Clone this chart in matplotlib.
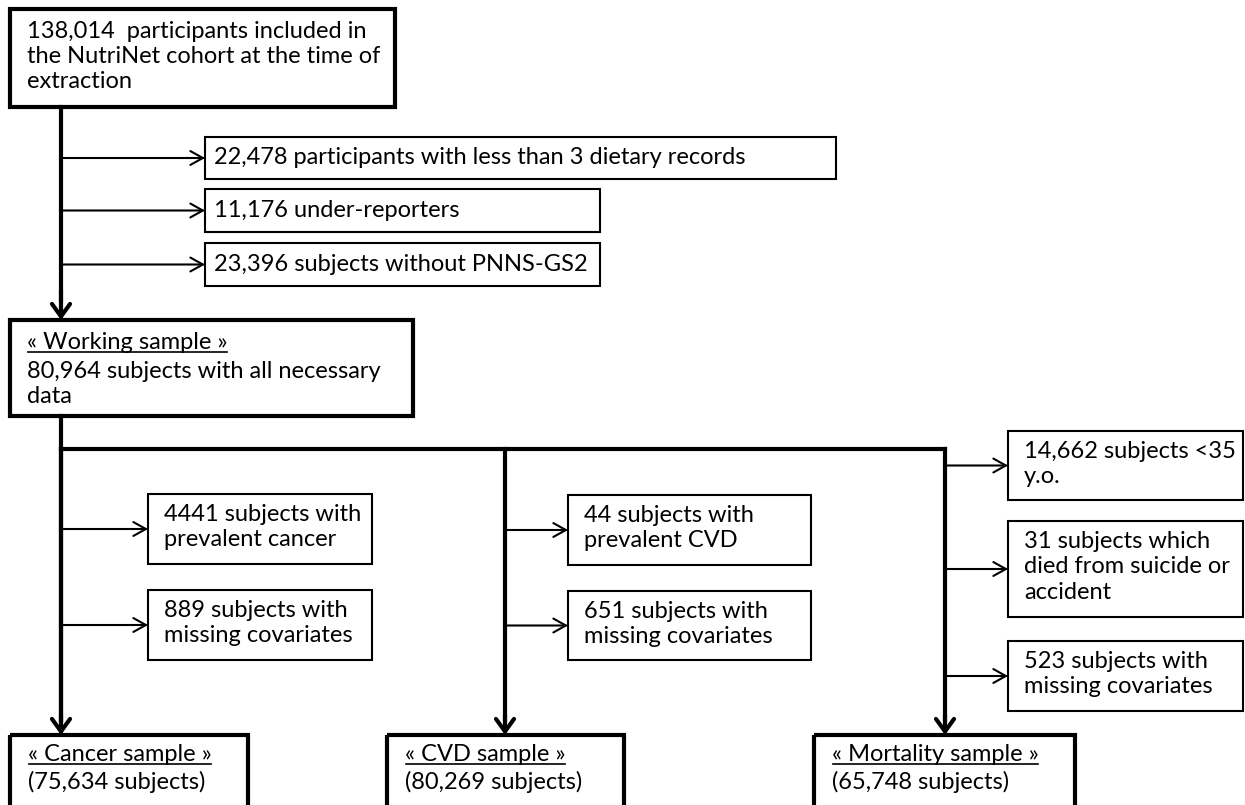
import matplotlib.pyplot as plt
from matplotlib.patches import Rectangle, FancyArrowPatch

# =========================================================
# DATA (texts of the flowchart)
# =========================================================

texto_inicio = "138,014  participants included in\nthe NutriNet cohort at the time of\nextraction"

exclusiones_iniciales = [
    "22,478 participants with less than 3 dietary records",
    "11,176 under-reporters",
    "23,396 subjects without PNNS-GS2",
]

titulo_trabajo = "« Working sample »"
texto_trabajo = "80,964 subjects with all necessary\ndata"

exclusiones_cancer = [
    "4441 subjects with\nprevalent cancer",
    "889 subjects with\nmissing covariates",
]
exclusiones_cvd = [
    "44 subjects with\nprevalent CVD",
    "651 subjects with\nmissing covariates",
]
exclusiones_mortalidad = [
    "14,662 subjects <35\ny.o.",
    "31 subjects which\ndied from suicide or\naccident",
    "523 subjects with\nmissing covariates",
]

titulos_finales = ["« Cancer sample »", "« CVD sample »", "« Mortality sample »"]
textos_finales = ["(75,634 subjects)", "(80,269 subjects)", "(65,748 subjects)"]

# =========================================================
# LAYOUT (pixel coordinates, y downwards)
# =========================================================

FUENTE = "Lato"
TAM = 17
INTERLINEA = 1.25
GRUESO = 3.0
FINO = 1.5

fig = plt.figure(figsize=(12.45, 8.05), dpi=100)
ax = fig.add_axes([0, 0, 1, 1])
ax.set_xlim(0, 1245)
ax.set_ylim(805, 0)
ax.axis("off")


def caja(x0, y0, x1, y1, lw):
    ax.add_patch(Rectangle((x0, y0), x1 - x0, y1 - y0, fill=False,
                           edgecolor="black", linewidth=lw, joinstyle="miter"))


def flecha(xa, ya, xb, yb, lw, hl, hw):
    ax.add_patch(FancyArrowPatch((xa, ya), (xb, yb),
                                 arrowstyle=f"->,head_length={hl},head_width={hw}",
                                 mutation_scale=1, linewidth=lw, color="black",
                                 shrinkA=0, shrinkB=0, joinstyle="miter"))


def linea(xs, ys, lw):
    ax.plot(xs, ys, color="black", linewidth=lw, solid_capstyle="projecting")


def texto(x, y, s, **kw):
    return ax.text(x, y, s, fontsize=TAM, family=FUENTE, va="top", ha="left",
                   linespacing=INTERLINEA, **kw)


subrayados = []

# Top box
caja(10, 9, 395, 107, GRUESO)
texto(27, 21, texto_inicio)

# main vertical to working sample
linea([61, 61], [107, 300], GRUESO)
flecha(61, 290, 61, 320, GRUESO, 9, 6.5)

# initial exclusions
cajas_ini = [(205, 137, 836, 179), (205, 189, 600, 232), (205, 243, 600, 286)]
for (x0, y0, x1, y1), s in zip(cajas_ini, exclusiones_iniciales):
    caja(x0, y0, x1, y1, FINO)
    flecha(61, (y0 + y1) / 2, x0, (y0 + y1) / 2, FINO, 9, 5)
    ax.text(x0 + 9, (y0 + y1) / 2, s, fontsize=TAM, family=FUENTE, va="center", ha="left")

# Working sample box
caja(10, 320, 413, 416, GRUESO)
subrayados.append(texto(27, 332, titulo_trabajo))
texto(27, 361, texto_trabajo)

# split lines
linea([61, 61], [416, 720], GRUESO)
linea([61, 945], [449, 449], GRUESO)
ramas_x = [61, 505, 945]
for xr in ramas_x:
    linea([xr, xr], [449, 720], GRUESO)
    flecha(xr, 715, xr, 735, GRUESO, 9, 6.5)

# exclusion boxes per branch
grupos = [
    (exclusiones_cancer, 63, 148, 372, [(494, 564), (590, 660)]),
    (exclusiones_cvd, 507, 568, 811, [(495, 565), (591, 660)]),
    (exclusiones_mortalidad, 947, 1008, 1243, [(431, 500), (521, 617), (641, 711)]),
]
for textos, xa, x0, x1, filas in grupos:
    for (y0, y1), s in zip(filas, textos):
        caja(x0, y0, x1, y1, FINO)
        ym = (y0 + y1) / 2
        flecha(xa, ym, x0, ym, FINO, 9, 5)
        texto(x0 + 16, y0 + 10, s)

# final boxes
finales_x = [(10, 248), (387, 624), (814, 1075)]
for (x0, x1), t, s in zip(finales_x, titulos_finales, textos_finales):
    caja(x0, 735, x1, 830, GRUESO)
    subrayados.append(texto(x0 + 18, 744, t))
    texto(x0 + 18, 771, s)

# underline titles
fig.canvas.draw()
inv = ax.transData.inverted()
for t in subrayados:
    bb = t.get_window_extent()
    (xa, ya), (xb, yb) = inv.transform([(bb.x0, bb.y0), (bb.x1, bb.y1)])
    linea([xa + 1, xb - 1], [ya - 1, ya - 1], 1.2)

fig.savefig("out.png", dpi=100)
